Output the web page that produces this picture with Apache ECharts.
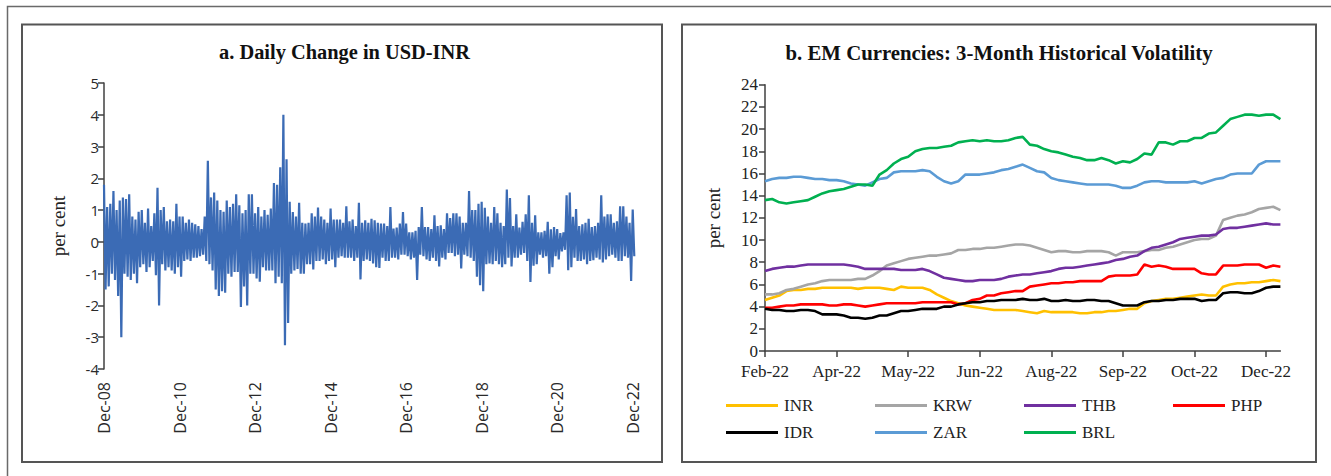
<!DOCTYPE html>
<html><head><meta charset="utf-8">
<script src="https://cdn.jsdelivr.net/npm/echarts@6/dist/echarts.min.js"></script>
<style>html,body{margin:0;padding:0;background:#fff}#c{width:1331px;height:476px}</style>
</head><body><div id="c"></div>
<script>
// ---------- Panel a: daily change in USD-INR (monthly high / low of daily change, per cent) ----------
const leftTickLabels = ['Dec-08','Dec-10','Dec-12','Dec-14','Dec-16','Dec-18','Dec-20','Dec-22'];
const monthlyHigh = [
1.8,1.1,1.2,1.6,1.0,1.3,1.4,1.35,1.5,0.8,
0.7,0.95,1.0,0.6,1.05,0.5,0.9,1.7,1.0,1.1,
0.65,0.7,0.65,1.2,0.8,0.8,0.6,0.7,0.6,0.55,
0.5,0.4,0.8,2.55,1.4,1.55,1.3,1.0,0.95,1.3,
1.1,1.2,1.5,1.15,0.9,1.0,1.5,1.5,0.9,1.1,
0.8,1.0,0.85,1.05,1.85,1.8,2.35,4.0,2.6,1.26,
0.94,0.8,1.23,0.6,0.58,0.6,0.9,0.8,1.08,0.8,
0.7,0.6,1.05,0.7,0.7,0.7,0.6,1.12,0.65,0.7,
0.5,1.23,0.6,0.68,0.6,0.73,0.68,0.6,0.58,0.58,
0.5,1.1,0.42,0.45,0.58,0.94,0.58,0.3,0.3,0.35,
0.47,1.1,0.47,0.47,0.4,0.84,0.5,0.52,0.4,0.9,
0.75,0.9,0.9,0.8,0.6,0.6,1.6,1.0,1.0,1.2,
1.26,1.07,0.8,0.6,1.1,0.9,0.6,0.5,1.65,1.38,
0.5,0.87,0.45,0.63,0.87,1.47,0.6,0.84,0.3,0.3,
0.35,0.63,0.4,0.47,0.4,0.28,0.3,1.47,1.55,0.79,
1.03,0.5,0.55,0.6,0.73,0.47,0.5,0.6,1.47,0.8,
0.87,0.87,0.6,0.65,1.12,1.12,0.8,0.6,1.02
];
const monthlyLow = [
-1.5,-1.4,-1.0,-1.2,-1.7,-3.0,-1.0,-1.1,-1.2,-1.0,
-1.3,-0.8,-0.7,-0.95,-0.8,-0.6,-1.05,-2.0,-0.7,-0.9,
-0.8,-0.9,-1.0,-0.8,-1.1,-0.6,-0.55,-0.6,-0.5,-0.5,
-0.45,-0.4,-0.6,-0.7,-0.9,-1.5,-1.7,-1.55,-1.6,-1.0,
-1.1,-0.95,-0.95,-2.05,-1.4,-2.0,-1.0,-1.0,-1.15,-1.25,
-0.8,-0.9,-0.9,-0.9,-1.3,-1.1,-1.3,-3.25,-2.55,-1.0,
-0.9,-0.85,-1.0,-1.0,-0.7,-0.7,-0.87,-0.6,-0.6,-0.55,
-0.7,-0.6,-0.55,-0.8,-0.5,-0.45,-0.5,-0.5,-0.5,-0.6,
-0.5,-1.18,-0.6,-0.55,-0.6,-0.68,-0.8,-0.82,-0.5,-0.6,
-0.6,-0.5,-0.5,-0.55,-0.4,-0.4,-0.45,-0.55,-0.5,-1.2,
-0.4,-0.45,-0.55,-0.6,-0.5,-0.6,-0.77,-0.5,-0.55,-0.35,
-0.35,-0.45,-0.4,-0.84,-0.4,-0.45,-0.5,-0.6,-1.1,-1.36,
-1.55,-0.7,-0.68,-0.7,-0.6,-0.7,-0.8,-0.7,-0.5,-0.77,
-0.5,-0.5,-0.4,-0.35,-0.6,-1.26,-0.75,-0.7,-0.4,-0.5,
-0.45,-1.0,-0.8,-0.45,-0.55,-0.3,-0.25,-0.89,-0.8,-0.5,
-0.6,-0.6,-0.55,-0.7,-0.6,-0.58,-0.5,-0.55,-0.65,-0.55,
-0.45,-0.4,-0.5,-0.6,-0.6,-0.45,-0.5,-1.23,-0.45
];

// ---------- Panel b: 3-month historical volatility (per cent) ----------
const rightTickLabels = ['Feb-22','Apr-22','May-22','Jun-22','Aug-22','Sep-22','Oct-22','Dec-22'];
const INR = [4.6,4.8,5.0,5.4,5.5,5.5,5.6,5.6,5.7,5.7,5.7,5.7,5.7,5.6,5.7,5.7,5.7,5.6,5.5,5.8,5.7,5.7,5.7,5.5,5.1,4.8,4.5,4.3,4.1,4.0,3.9,3.8,3.7,3.7,3.7,3.7,3.6,3.5,3.4,3.6,3.5,3.5,3.5,3.5,3.4,3.4,3.5,3.5,3.6,3.6,3.7,3.8,3.8,4.3,4.5,4.6,4.7,4.7,4.8,4.9,5.0,5.1,5.0,5.0,5.8,6.0,6.1,6.1,6.2,6.2,6.3,6.4,6.3];
const KRW = [5.1,5.1,5.2,5.5,5.6,5.8,6.0,6.1,6.3,6.4,6.4,6.4,6.4,6.5,6.5,6.8,7.2,7.7,7.9,8.1,8.3,8.4,8.5,8.6,8.6,8.7,8.8,9.1,9.1,9.2,9.2,9.3,9.3,9.4,9.5,9.6,9.6,9.5,9.3,9.1,8.9,9.0,9.0,8.9,8.9,9.0,9.0,9.0,8.9,8.6,8.9,8.9,8.9,9.0,9.1,9.1,9.3,9.4,9.6,9.8,10.0,10.1,10.1,10.4,11.8,12.0,12.2,12.3,12.5,12.8,12.9,13.0,12.7];
const THB = [7.2,7.4,7.5,7.6,7.6,7.7,7.8,7.8,7.8,7.8,7.8,7.8,7.7,7.6,7.4,7.4,7.4,7.4,7.4,7.3,7.3,7.3,7.4,7.2,6.9,6.6,6.5,6.4,6.3,6.3,6.4,6.4,6.4,6.5,6.7,6.8,6.9,6.9,7.0,7.1,7.2,7.4,7.5,7.5,7.6,7.7,7.8,7.9,8.0,8.2,8.3,8.5,8.6,9.0,9.3,9.4,9.6,9.8,10.1,10.2,10.3,10.4,10.4,10.5,11.0,11.1,11.1,11.2,11.3,11.4,11.5,11.4,11.4];
const PHP = [3.9,3.9,4.0,4.1,4.1,4.2,4.2,4.2,4.2,4.1,4.1,4.2,4.2,4.1,4.0,4.1,4.2,4.3,4.3,4.3,4.3,4.3,4.4,4.4,4.4,4.4,4.4,4.2,4.3,4.6,4.7,5.0,5.0,5.2,5.3,5.4,5.4,5.8,5.9,6.0,6.1,6.1,6.2,6.2,6.3,6.3,6.3,6.3,6.7,6.8,6.8,6.8,6.9,7.8,7.6,7.7,7.6,7.4,7.4,7.4,7.4,7.0,6.9,6.9,7.7,7.7,7.7,7.8,7.8,7.8,7.5,7.7,7.6];
const IDR = [3.8,3.7,3.7,3.6,3.6,3.7,3.7,3.6,3.3,3.3,3.3,3.2,3.0,3.0,2.9,3.0,3.2,3.2,3.4,3.6,3.6,3.7,3.8,3.8,3.8,4.0,4.0,4.2,4.3,4.4,4.4,4.5,4.5,4.6,4.6,4.6,4.7,4.6,4.6,4.7,4.5,4.5,4.6,4.5,4.5,4.6,4.6,4.5,4.5,4.3,4.1,4.1,4.1,4.4,4.5,4.5,4.6,4.6,4.7,4.7,4.7,4.5,4.6,4.6,5.2,5.3,5.3,5.2,5.2,5.4,5.7,5.8,5.8];
const ZAR = [15.3,15.5,15.6,15.6,15.7,15.7,15.6,15.5,15.5,15.4,15.4,15.3,15.1,15.0,14.9,15.2,15.5,15.6,16.1,16.2,16.2,16.2,16.3,16.2,15.7,15.3,15.1,15.3,15.9,15.9,15.9,16.0,16.1,16.3,16.4,16.6,16.8,16.5,16.2,16.1,15.6,15.4,15.3,15.2,15.1,15.0,15.0,15.0,15.0,14.9,14.7,14.7,14.9,15.2,15.3,15.3,15.2,15.2,15.2,15.2,15.3,15.1,15.3,15.5,15.6,15.9,16.0,16.0,16.0,16.8,17.1,17.1,17.1];
const BRL = [13.6,13.7,13.4,13.3,13.4,13.5,13.6,13.9,14.2,14.4,14.5,14.6,14.8,15.0,15.0,14.9,15.9,16.3,16.9,17.3,17.5,18.0,18.2,18.3,18.3,18.4,18.5,18.8,18.9,19.0,18.9,19.0,18.9,18.9,19.0,19.2,19.3,18.6,18.5,18.2,18.0,17.9,17.7,17.5,17.4,17.2,17.2,17.4,17.2,16.9,17.1,17.0,17.3,17.8,17.7,18.8,18.8,18.6,18.9,18.9,19.2,19.2,19.6,19.7,20.3,20.9,21.1,21.3,21.3,21.2,21.3,21.3,20.9];

const seriesNames = ['INR','KRW','THB','PHP','IDR','ZAR','BRL'];
const seriesValues = [INR, KRW, THB, PHP, IDR, ZAR, BRL];
const seriesColors = ['#FFC000','#A5A5A5','#7030A0','#FF0000','#000000','#5B9BD5','#00B050'];

// ---------- build ----------
const leftData = [];
monthlyHigh.forEach((h, m) => { leftData.push([m, h]); leftData.push([m + 0.5, monthlyLow[m]]); });
const leftTickValues = leftTickLabels.map((_, i) => i * 24);
const rightTickValues = rightTickLabels.map((_, i) => i);

const SERIF = '"Liberation Serif", "DejaVu Serif", serif';
const SANS = '"Open Sans", "Noto Sans", sans-serif';
const axisCol = '#404040';

const legendPos = [[726,397],[875,397],[1024,397],[1173,397],[726,424],[875,424],[1024,424]];

const chart = echarts.init(document.getElementById('c'), null, {renderer: 'svg', width: 1331, height: 476});
chart.setOption({
  animation: false,
  backgroundColor: '#ffffff',
  grid: [
    {left: 104, top: 83, width: 535, height: 286},
    {left: 765, top: 84.7, width: 515.4, height: 266.3}
  ],
  xAxis: [
    {gridIndex: 0, type: 'value', min: 0, max: 170,
     axisLine: {show: false, onZero: false}, axisTick: {show: false}, splitLine: {show: false},
     axisLabel: {customValues: leftTickValues, rotate: 90, margin: 13, fontFamily: SANS, fontSize: 16, color: '#2a2a2a',
       formatter: v => leftTickLabels[Math.round(v / 24)] || ''}},
    {gridIndex: 1, type: 'value', min: 0, max: 7.2,
     axisLine: {show: true, onZero: false, lineStyle: {color: axisCol, width: 1.5}},
     axisTick: {show: true, customValues: rightTickValues, length: 6, lineStyle: {color: axisCol, width: 1.5}},
     splitLine: {show: false},
     axisLabel: {customValues: rightTickValues, margin: 12, fontFamily: SERIF, fontSize: 17, color: '#222',
       formatter: v => rightTickLabels[Math.round(v)] || ''}}
  ],
  yAxis: [
    {gridIndex: 0, type: 'value', min: -4, max: 5, interval: 1,
     axisLine: {show: true, lineStyle: {color: axisCol, width: 1.5}},
     axisTick: {show: true, length: 6, lineStyle: {color: axisCol, width: 1.5}},
     splitLine: {show: false},
     axisLabel: {margin: 5, fontFamily: SANS, fontSize: 15, color: '#2a2a2a'}},
    {gridIndex: 1, type: 'value', min: 0, max: 24, interval: 2,
     axisLine: {show: true, lineStyle: {color: axisCol, width: 1.5}},
     axisTick: {show: true, length: 6, lineStyle: {color: axisCol, width: 1.5}},
     splitLine: {show: false},
     axisLabel: {margin: 7, fontFamily: SERIF, fontSize: 17, color: '#222'}}
  ],
  legend: seriesNames.map((n, i) => ({
    data: [n], left: legendPos[i][0], top: legendPos[i][1], icon: 'rect', itemWidth: 52, itemHeight: 3,
    padding: 0, selectedMode: false,
    textStyle: {fontFamily: SERIF, fontSize: 17, color: '#222', padding: [0,0,0,1]}
  })),
  series: [
    {type: 'line', name: 'USD-INR', xAxisIndex: 0, yAxisIndex: 0, data: leftData, showSymbol: false,
     symbol: 'none', lineStyle: {color: '#3b6bb5', width: 2.2, join: 'miter', miterLimit: 3}, itemStyle: {color: '#3b6bb5'}, silent: true}
  ].concat(seriesNames.map((n, i) => ({
    type: 'line', name: n, xAxisIndex: 1, yAxisIndex: 1, symbol: 'none', showSymbol: false,
    data: seriesValues[i].map((v, k) => [k / 10, v]),
    color: seriesColors[i], lineStyle: {color: seriesColors[i], width: 2.6}, itemStyle: {color: seriesColors[i]}
  }))),
  graphic: [
    {type: 'rect', shape: {x: 7.5, y: 6.5, width: 1400, height: 500}, style: {fill: 'none', stroke: '#6a6a6a', lineWidth: 1.5}, silent: true},
    {type: 'rect', shape: {x: 22, y: 24.5, width: 640, height: 437.5}, style: {fill: 'none', stroke: '#555', lineWidth: 2}, silent: true},
    {type: 'rect', shape: {x: 682, y: 24.5, width: 634, height: 437.5}, style: {fill: 'none', stroke: '#555', lineWidth: 2}, silent: true},
    {type: 'text', x: 344.5, y: 52, style: {text: 'a. Daily Change in USD-INR', fontFamily: SERIF, fontWeight: 'bold', fontSize: 20.4, fill: '#111', textAlign: 'center', textVerticalAlign: 'middle'}},
    {type: 'text', x: 999, y: 52, style: {text: 'b. EM Currencies: 3-Month Historical Volatility', fontFamily: SERIF, fontWeight: 'bold', fontSize: 20.8, fill: '#111', textAlign: 'center', textVerticalAlign: 'middle'}},
    {type: 'text', x: 58.5, y: 226, rotation: Math.PI / 2, style: {text: 'per cent', fontFamily: SERIF, fontSize: 19, fill: '#222', textAlign: 'center', textVerticalAlign: 'middle'}},
    {type: 'text', x: 713.5, y: 218, rotation: Math.PI / 2, style: {text: 'per cent', fontFamily: SERIF, fontSize: 19, fill: '#222', textAlign: 'center', textVerticalAlign: 'middle'}}
  ]
});
</script>
</body></html>
